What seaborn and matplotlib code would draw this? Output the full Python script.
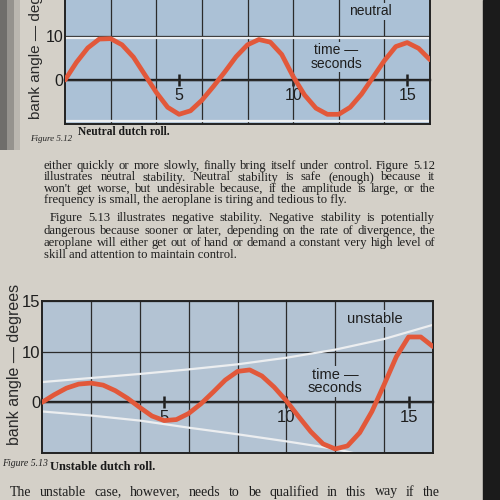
import numpy as np
import pandas as pd
import matplotlib.pyplot as plt
import seaborn as sns
from matplotlib.patches import Rectangle

# tempo em segundos (amostras a cada 0,5 s)
tempo = [0, 0.5, 1, 1.5, 2, 2.5, 3, 3.5, 4, 4.5, 5, 5.5, 6, 6.5, 7, 7.5, 8,
         8.5, 9, 9.5, 10, 10.5, 11, 11.5, 12, 12.5, 13, 13.5, 14, 14.5, 15, 15.5, 16]

neutro = [0, 4.0, 7.3, 9.3, 9.4, 8.0, 5.2, 1.2, -2.8, -6.2, -7.8, -7.0, -4.6, -1.5, 1.8, 5.3, 8.0,
          9.2, 8.6, 5.8, 0.8, -3.4, -6.4, -7.8, -7.8, -6.2, -3.2, 0.6, 4.4, 7.6, 8.5, 7.2, 4.6]

instavel = [0, 1.5, 2.8, 3.6, 3.8, 3.4, 2.3, 0.8, -1.0, -2.7, -3.6, -3.4, -2.2, -0.3, 2.0, 4.4, 6.1,
            6.4, 5.2, 3.0, 0.3, -2.8, -5.8, -8.2, -9.2, -8.6, -6.0, -1.8, 3.5, 9.0, 12.9, 12.9, 11.0]

# envelopes (linhas claras)
env_neutro_t = [0, 16]
env_neutro_sup = [9.6, 9.6]
env_neutro_inf = [-9.4, -9.4]
env_sup_t = [0, 2, 4, 6, 8, 10, 12, 14, 16]
env_sup = [4.0, 4.8, 5.6, 6.5, 7.5, 8.8, 10.4, 12.5, 15.3]
env_inf_t = [0, 2, 4, 6, 8, 10, 12, 13]
env_inf = [-1.8, -2.6, -3.6, -5.0, -6.3, -7.7, -9.2, -10.3]

grade_x = [2, 4, 6, 8, 10, 12, 14]
ticks_tempo = [5, 10, 15]
ticks_y = [0, 10, 20]
rotulos_y = ['0', '10', '15']

texto = [
    "either quickly or more slowly, finally bring itself under control.   Figure 5.12",
    "illustrates neutral stability.   Neutral stability is safe (enough) because it",
    "won't get worse, but undesirable because, if the amplitude is large, or the",
    "frequency is small, the aeroplane is tiring and tedious to fly.",
    "Figure 5.13 illustrates negative stability.   Negative stability is potentially",
    "dangerous because sooner or later, depending on the rate of divergence, the",
    "aeroplane will either get out of hand or demand a constant very high level of",
    "skill and attention to maintain control.",
]
ultima_linha = "The unstable case, however, needs to be qualified in this way if the"

pagina = '#d4d0c8'
sans = 'Liberation Sans'
serif = 'Liberation Serif'

fig = plt.figure(figsize=(5, 5), dpi=100, facecolor=pagina)


def desenha(ax, v, envs, nome, pos_nome, pos_tempo, cor_fundo, fs):
    ax.set_facecolor(cor_fundo)
    for et, ev in envs:
        sns.lineplot(x=et, y=ev, ax=ax, color='#eceef0', lw=1.6, zorder=1.5)
    sns.lineplot(x=tempo, y=v, ax=ax, color='#e2583a', lw=3.4, zorder=3,
                 solid_capstyle='round', solid_joinstyle='round')
    ax.set_xlim(0, 16)
    ax.set_ylim(-10, 20)
    ax.set_xticks(grade_x)
    ax.set_yticks(ticks_y, rotulos_y, family=sans)
    ax.tick_params(length=0, labelbottom=False, labelsize=fs + 1.5, pad=1, colors='#1e1e1e')
    ax.grid(True, color='#2b2b2b', lw=0.9)
    ax.set_axisbelow(True)
    ax.set_xlabel('')
    for s in ax.spines.values():
        s.set_color('#222222')
        s.set_linewidth(1.4)
    ax.set_ylabel('bank angle \u2014 degrees', family=sans, fontsize=fs + 1, color='#2a2a2a')

    # eixo do tempo na linha do zero
    sec = ax.secondary_xaxis(1 / 3)
    sec.set_xticks(ticks_tempo)
    sec.spines['bottom'].set_linewidth(1.7)
    sec.spines['bottom'].set_color('#1e1e1e')
    sec.tick_params(direction='inout', length=9, width=1.8, labelsize=fs + 1.5,
                    pad=1, colors='#1e1e1e')
    for lb in sec.get_xticklabels():
        lb.set_family(sans)

    caixa = dict(fc=cor_fundo, ec='none', pad=1)
    ax.text(*pos_nome, nome, family=sans, fontsize=fs, ha='center', va='center',
            color='#1e1e1e', bbox=caixa, zorder=4)
    ax.text(*pos_tempo, 'time \u2014\nseconds', family=sans, fontsize=fs, ha='center',
            va='center', color='#1e1e1e', linespacing=0.95, bbox=caixa, zorder=4)


# Figura 5.12 (cortada no topo, como na foto)
ax1 = fig.add_axes([0.13, 0.752, 0.73, 0.264])
desenha(ax1, neutro, [(env_neutro_t, env_neutro_sup), (env_neutro_t, env_neutro_inf)],
        'neutral', (13.4, 15.6), (11.9, 5.2), '#abc1d6', 10)
ax1.yaxis.set_label_coords(-0.06, 0.62)

# Figura 5.13
ax2 = fig.add_axes([0.084, 0.094, 0.782, 0.304])
desenha(ax2, instavel, [(env_sup_t, env_sup), (env_inf_t, env_inf)],
        'unstable', (13.6, 16.5), (12.0, 4.1), '#b3c3d3', 10.5)
ax2.yaxis.set_label_coords(-0.05, 0.58)

# legendas das figuras
fig.text(30 / 500, 1 - 139 / 500, 'Figure 5.12', family=serif, style='italic',
         fontsize=6.5, va='center', color='#222222')
fig.text(78 / 500, 1 - 132 / 500, 'Neutral dutch roll.', family=serif, weight='bold',
         fontsize=8.3, va='center', color='#1a1a1a')
fig.text(2 / 500, 1 - 463 / 500, 'Figure 5.13', family=serif, style='italic',
         fontsize=7, va='center', color='#222222')
fig.text(50 / 500, 1 - 467 / 500, 'Unstable dutch roll.', family=serif, weight='bold',
         fontsize=9, va='center', color='#1a1a1a')

# texto justificado
fig.canvas.draw()
rend = fig.canvas.get_renderer()


def justifica(linha, y, x0, x1, fs):
    palavras = linha.split()
    ts = [fig.text(0, y, p, family=serif, fontsize=fs, va='center', color='#1e1e1e')
          for p in palavras]
    ls = [t.get_window_extent(renderer=rend).width / fig.bbox.width for t in ts]
    esp = (x1 - x0 - sum(ls)) / (len(palavras) - 1)
    x = x0
    for t, l in zip(ts, ls):
        t.set_x(x)
        x += l + esp


linhas_y = [166, 177.5, 189, 200.5, 218, 230.5, 243, 255.5]
fs_texto = 9.1
for i, (linha, y) in enumerate(zip(texto, linhas_y)):
    x0 = 50 / 500 if i == 4 else 44 / 500
    if i in (3, 7):
        fig.text(x0, 1 - y / 500, linha, family=serif, fontsize=fs_texto, va='center',
                 color='#1e1e1e')
    else:
        justifica(linha, 1 - y / 500, x0, 435 / 500, fs_texto)
justifica(ultima_linha, 1 - 492 / 500, 10 / 500, 440 / 500, 10)

# sombras da encadernacao / borda da foto
fig.patches.append(Rectangle((0.966, 0), 0.034, 1, transform=fig.transFigure,
                             color='#1b1b1b', zorder=10))
for w, a in [(0.04, 0.15), (0.027, 0.25), (0.013, 0.35)]:
    fig.patches.append(Rectangle((0, 0.7), w, 0.3, transform=fig.transFigure,
                                 color='#2a2a2a', alpha=a, zorder=10, lw=0))

fig.savefig('out.png', dpi=100, facecolor=pagina)
